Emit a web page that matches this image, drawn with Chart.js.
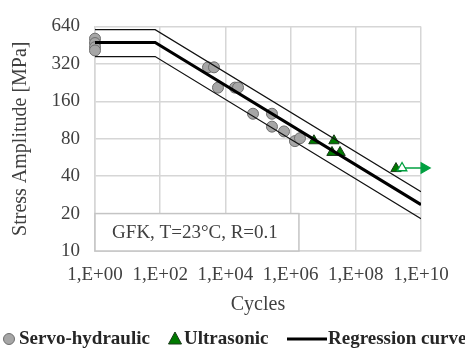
<!DOCTYPE html>
<html>
<head>
<meta charset="utf-8">
<script src="https://cdn.jsdelivr.net/npm/chart.js@4"></script>
<style>
  html, body { margin: 0; padding: 0; background: #fff; }
  #wrap { width: 465px; height: 349px; }
</style>
</head>
<body>
<div id="wrap"><canvas id="c" width="465" height="349"></canvas></div>
<script>

const xTicks = [1, 1e2, 1e4, 1e6, 1e8, 1e10];
const yTicks = [10, 20, 40, 80, 160, 320, 640];

// Servo-hydraulisch
const servoN = [1, 1, 1, 1, 2930, 4470, 5920, 19600, 24400, 70300, 268000, 268000, 628000, 1.36e6, 1.94e6];
const servoS = [510, 470, 435, 410, 300, 300, 206, 206, 206, 127, 127, 100, 91.5, 76.5, 80.7];

// Ultraschall
const ultraN = [5.2e6, 2.14e7, 1.86e7, 3.29e7, 1.71e9];
const ultraS = [77, 77, 62, 62, 46];

// Durchläufer + Pfeil
const runoutN = [2.62e9, 1.25e10];
const runoutS = [46.5, 46.5];

// Regressionskurve + Streuband
const regN     = [1, 70, 1e10];
const regMean  = [475, 475, 23.6];
const regUpper = [603, 603, 30];
const regLower = [366, 366, 18.2];

const FONT = "'Liberation Serif', 'Times New Roman', serif";
const TXT  = '#404040';
const GRID = '#d6d6d6';

const pts = (xs, ys) => xs.map((x, i) => ({ x: x, y: ys[i] }));

const boxPlugin = {
  id: 'textbox',
  beforeDatasetsDraw(chart) {
    const { ctx, chartArea, scales } = chart;
    const x0 = chartArea.left, y1 = chartArea.bottom;
    const x1 = scales.x.getPixelForValue(1.8e6);
    const y0 = scales.y.getPixelForValue(20);
    ctx.save();
    ctx.fillStyle = '#fff';
    ctx.fillRect(x0, y0, x1 - x0, y1 - y0);
    ctx.strokeStyle = '#c4c4c4';
    ctx.lineWidth = 1.5;
    ctx.strokeRect(x0, y0, x1 - x0, y1 - y0);
    ctx.fillStyle = TXT;
    ctx.font = '19px ' + FONT;
    ctx.textAlign = 'center';
    ctx.textBaseline = 'middle';
    ctx.fillText('GFK, T=23°C, R=0.1', (x0 + x1) / 2 - 2, (y0 + y1) / 2 + 1);
    ctx.restore();
  }
};

const legendPlugin = {
  id: 'legendBottom',
  afterDraw(chart) {
    const ctx = chart.ctx;
    const y = 339;
    ctx.save();
    ctx.font = 'bold 19px ' + FONT;
    ctx.fillStyle = '#262626';
    ctx.textBaseline = 'middle';
    ctx.textAlign = 'left';
    // Kreis
    ctx.beginPath();
    ctx.arc(9, y, 5.5, 0, Math.PI * 2);
    ctx.fillStyle = '#a6a6a6';
    ctx.fill();
    ctx.strokeStyle = '#6e6e6e';
    ctx.lineWidth = 1;
    ctx.stroke();
    ctx.fillStyle = '#262626';
    ctx.fillText('Servo-hydraulic', 19, y);
    // Dreieck
    ctx.beginPath();
    ctx.moveTo(175, y - 7);
    ctx.lineTo(181.5, y + 5);
    ctx.lineTo(168.5, y + 5);
    ctx.closePath();
    ctx.fillStyle = '#007a00';
    ctx.fill();
    ctx.strokeStyle = '#1a3a1a';
    ctx.stroke();
    ctx.fillStyle = '#262626';
    ctx.fillText('Ultrasonic', 184, y);
    // Linie
    ctx.beginPath();
    ctx.moveTo(287, y);
    ctx.lineTo(327, y);
    ctx.strokeStyle = '#000';
    ctx.lineWidth = 3;
    ctx.stroke();
    ctx.fillText('Regression curve', 328, y);
    ctx.restore();
  }
};

new Chart(document.getElementById('c'), {
  type: 'scatter',
  data: {
    datasets: [
      { label: 'Upper', type: 'line', data: pts(regN, regUpper), borderColor: '#111', borderWidth: 1.2, pointRadius: 0, fill: false, tension: 0 },
      { label: 'Lower', type: 'line', data: pts(regN, regLower), borderColor: '#111', borderWidth: 1.2, pointRadius: 0, fill: false, tension: 0 },
      { label: 'Regression curve', type: 'line', data: pts(regN, regMean), borderColor: '#000', borderWidth: 3, pointRadius: 0, fill: false, tension: 0 },
      { label: 'Servo-hydraulic', data: pts(servoN, servoS), pointStyle: 'circle', pointRadius: 5.5,
        backgroundColor: '#a6a6a6', borderColor: '#6e6e6e', borderWidth: 1, clip: false },
      { label: 'Runout', type: 'line', data: pts(runoutN, runoutS), borderColor: '#00a040', borderWidth: 1.5,
        pointStyle: 'triangle', pointRotation: [0, 90], pointRadius: [5.5, 6],
        pointBackgroundColor: ['#fff', '#00a040'], pointBorderColor: ['#00a040', '#00a040'], pointBorderWidth: 1.3, clip: false },
      { label: 'Ultrasonic', data: pts(ultraN, ultraS), pointStyle: 'triangle', pointRadius: 6,
        backgroundColor: '#007a00', borderColor: '#1a3a1a', borderWidth: 1 }
    ]
  },
  options: {
    responsive: false,
    animation: false,
    layout: { padding: { top: 20, right: 44, bottom: 28, left: 0 } },
    plugins: { legend: { display: false }, tooltip: { enabled: false } },
    scales: {
      x: {
        type: 'logarithmic', min: 1, max: 1e10,
        afterBuildTicks: s => { s.ticks = xTicks.map(v => ({ value: v })); },
        afterFit: s => { s.height = 70; },
        ticks: {
          color: TXT, font: { family: FONT, size: 19 }, padding: 13, maxRotation: 0, autoSkip: false,
          callback: v => '1,E+' + String(Math.round(Math.log10(v))).padStart(2, '0')
        },
        grid: { color: GRID, lineWidth: 1.5, drawTicks: false },
        border: { color: GRID, width: 1.5 },
        title: { display: true, text: 'Cycles', color: TXT, font: { family: FONT, size: 20 }, padding: { top: 0, bottom: 4 } }
      },
      y: {
        type: 'logarithmic', min: 10, max: 640,
        afterBuildTicks: s => { s.ticks = yTicks.map(v => ({ value: v })); },
        afterFit: s => { s.width = 95; },
        ticks: {
          color: TXT, font: { family: FONT, size: 19 }, padding: 15, autoSkip: false,
          callback: v => String(v)
        },
        grid: { color: GRID, lineWidth: 1.5, drawTicks: false },
        border: { color: GRID, width: 1.5 },
        title: { display: true, text: 'Stress Amplitude [MPa]', color: TXT, font: { family: FONT, size: 20 }, padding: { top: 9, bottom: 0 } }
      }
    }
  },
  plugins: [boxPlugin, legendPlugin]
});
</script>
</body>
</html>
